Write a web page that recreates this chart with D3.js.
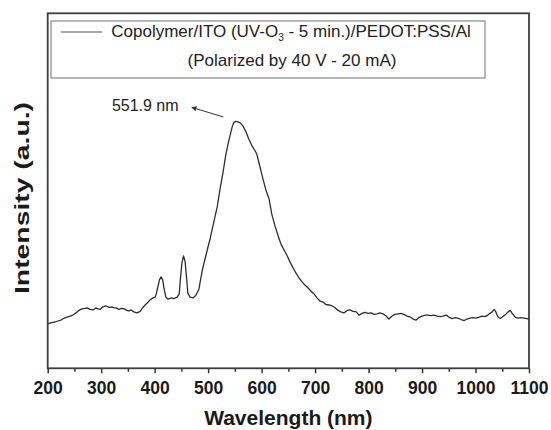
<!DOCTYPE html>
<html>
<head>
<meta charset="utf-8">
<script src="https://cdn.jsdelivr.net/npm/d3@7"></script>
<style>
  body { margin: 0; background: #fff; }
  svg { font-family: "Liberation Sans", Arial, sans-serif; }
</style>
</head>
<body>
<div id="chart-wrapper"></div>
<script>
// spectrum (nm, normalised a.u.)
const wavelength = [200,206,214,219,225,231,236,242,247,253,257,260,264,270,274,279,285,290,294,298,
  303,309,315,320,324,328,333,339,343,348,352,356,361,367,373,378,384,388,391,397,
  401,403,406,409,412,415,418,421,425,431,436,442,446,448,451,454,457,460,462,466,
  472,477,483,485,490,496,504,509,517,522,528,533,539,545,548,552,556,560,565,571,
  576,582,588,591,597,603,608,614,619,625,631,636,642,648,653,659,664,670,676,681,
  687,692,698,704,709,715,720,726,732,737,743,748,754,760,765,771,777,782,788,793,
  799,805,810,816,821,827,833,838,844,849,855,861,866,872,878,883,889,894,900,906,
  911,917,922,928,934,939,945,950,956,962,967,973,979,984,990,995,1001,1007,1012,1018,
  1023,1027,1031,1035,1038,1042,1046,1050,1055,1061,1065,1068,1074,1079,1085,1091,1096,1100];
const intensity = [0.180,0.184,0.188,0.192,0.196,0.204,0.208,0.212,0.216,0.225,0.233,0.237,0.241,0.243,0.245,0.239,0.237,0.245,0.241,0.239,
  0.249,0.253,0.247,0.249,0.245,0.245,0.239,0.243,0.241,0.235,0.233,0.237,0.229,0.225,0.231,0.247,0.261,0.269,0.277,0.286,
  0.289,0.302,0.330,0.359,0.371,0.359,0.318,0.289,0.281,0.286,0.283,0.289,0.302,0.359,0.428,0.456,0.432,0.359,0.306,0.289,
  0.286,0.296,0.322,0.350,0.407,0.460,0.529,0.578,0.655,0.724,0.797,0.866,0.927,0.980,0.998,1.002,1.000,0.996,0.984,0.959,
  0.931,0.903,0.882,0.870,0.817,0.765,0.724,0.687,0.626,0.578,0.537,0.505,0.480,0.456,0.432,0.407,0.387,0.367,0.350,0.338,
  0.326,0.314,0.302,0.285,0.273,0.269,0.259,0.257,0.253,0.247,0.235,0.229,0.225,0.235,0.237,0.231,0.229,0.216,0.223,0.227,
  0.223,0.225,0.219,0.221,0.225,0.221,0.212,0.200,0.212,0.219,0.221,0.223,0.219,0.212,0.208,0.200,0.196,0.206,0.212,0.216,
  0.216,0.214,0.216,0.212,0.210,0.212,0.216,0.208,0.202,0.206,0.204,0.198,0.194,0.200,0.204,0.206,0.204,0.208,0.212,0.210,
  0.216,0.223,0.229,0.239,0.229,0.208,0.202,0.208,0.216,0.229,0.235,0.225,0.208,0.204,0.206,0.204,0.202,0.200];

const majorTicks = [200,300,400,500,600,700,800,900,1000,1100];
const minorTicks = [250,350,450,550,650,750,850,950,1050];
const legendLines = ["Copolymer/ITO (UV-O", "3", " - 5 min.)/PEDOT:PSS/Al", "(Polarized by 40 V - 20 mA)"];
const peakLabel = "551.9 nm";
const peakNm = 551.9;

const width = 551, height = 430;
const margin = {top: 13.3, right: 22, bottom: 61.7, left: 47.7};
const innerW = width - margin.left - margin.right;
const innerH = height - margin.top - margin.bottom;

const svg = d3.select("#chart-wrapper").append("svg")
    .attr("width", width)
    .attr("height", height);

const g = svg.append("g")
    .attr("transform", `translate(${margin.left},${margin.top})`);

const x = d3.scaleLinear().domain([200, 1100]).range([0, innerW]);
const y = d3.scaleLinear().domain([0, 1.441]).range([innerH, 0]);

// minor ticks
g.append("g")
    .attr("transform", `translate(0,${innerH})`)
    .call(d3.axisBottom(x).tickValues(minorTicks).tickSize(3.5).tickFormat(""))
    .call(a => a.select(".domain").remove())
    .call(a => a.selectAll("line").attr("stroke", "#333").attr("stroke-width", 1.5));

// major ticks + labels
g.append("g")
    .attr("transform", `translate(0,${innerH})`)
    .call(d3.axisBottom(x).tickValues(majorTicks).tickSize(5).tickPadding(8.7).tickFormat(d3.format("d")))
    .call(a => a.select(".domain").remove())
    .call(a => a.selectAll("line").attr("stroke", "#333").attr("stroke-width", 1.5))
    .call(a => a.selectAll("text")
        .attr("fill", "#1a1a1a")
        .style("font-size", "17.5px")
        .style("font-weight", "bold")
        .style("font-family", "'Liberation Sans', Arial, sans-serif"));

// spectrum
const pts = wavelength.map((w, i) => [w, intensity[i]]);
g.append("path")
    .datum(pts)
    .attr("fill", "none")
    .attr("stroke", "#2e2e2e")
    .attr("stroke-width", 1.3)
    .attr("stroke-linejoin", "round")
    .attr("d", d3.line().x(d => x(d[0])).y(d => y(d[1])));

// frame
g.append("rect")
    .attr("width", innerW)
    .attr("height", innerH)
    .attr("fill", "none")
    .attr("stroke", "#3c3c3c")
    .attr("stroke-width", 1.8);

// legend
const leg = g.append("g").attr("transform", `translate(${51 - margin.left},${21 - margin.top})`);
leg.append("rect")
    .attr("width", 434).attr("height", 57)
    .attr("fill", "#fff")
    .attr("stroke", "#707070").attr("stroke-width", 1);
leg.append("line")
    .attr("x1", 10).attr("x2", 51).attr("y1", 11).attr("y2", 11)
    .attr("stroke", "#555").attr("stroke-width", 1);
const t1 = leg.append("text")
    .attr("x", 240).attr("y", 16)
    .attr("text-anchor", "middle")
    .attr("fill", "#222")
    .style("font-size", "17px");
t1.append("tspan").text(legendLines[0]);
t1.append("tspan").attr("dy", 4).style("font-size", "10px").text(legendLines[1]);
t1.append("tspan").attr("dy", -4).text(legendLines[2]);
leg.append("text")
    .attr("x", 241).attr("y", 45)
    .attr("text-anchor", "middle")
    .attr("fill", "#222")
    .style("font-size", "17px")
    .text(legendLines[3]);

// peak annotation
svg.append("defs").append("marker")
    .attr("id", "arrow")
    .attr("viewBox", "0 0 10 10")
    .attr("refX", 9).attr("refY", 5)
    .attr("markerWidth", 6).attr("markerHeight", 5)
    .attr("orient", "auto")
    .append("path")
    .attr("d", "M0,0 L10,5 L0,10 Z")
    .attr("fill", "#333");

const px = x(peakNm), py = y(1.002);
g.append("line")
    .attr("x1", px - 12.5).attr("y1", py - 4.5)
    .attr("x2", px - 44).attr("y2", py - 14)
    .attr("stroke", "#333").attr("stroke-width", 1)
    .attr("marker-end", "url(#arrow)");
g.append("text")
    .attr("x", px - 124).attr("y", py - 10)
    .attr("fill", "#222")
    .style("font-size", "16px")
    .text(peakLabel);

// axis titles
svg.append("text")
    .attr("x", margin.left + innerW / 2).attr("y", 425)
    .attr("text-anchor", "middle")
    .attr("fill", "#1a1a1a")
    .style("font-size", "21px")
    .style("font-weight", "bold")
    .text("Wavelength (nm)");

// the y title in the source is drawn stretched along its length
svg.append("text")
    .attr("transform", `translate(29,198) rotate(-90) scale(1.35,1)`)
    .attr("text-anchor", "middle")
    .attr("fill", "#1a1a1a")
    .style("font-size", "21px")
    .style("font-weight", "bold")
    .text("Intensity (a.u.)");
</script>
</body>
</html>
